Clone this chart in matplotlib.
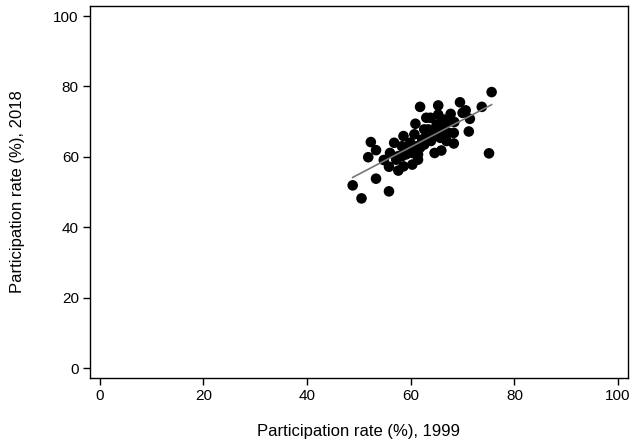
import numpy as np
import matplotlib.pyplot as plt

plt.rcParams['font.family'] = ['Liberation Sans', 'DejaVu Sans']

# participation rate (%), 1999 vs 2018
x1999 = [48.8, 50.5, 55.8, 53.3, 51.8, 52.3, 53.3, 54.8, 55.8, 56.0,
         56.8, 57.6, 58.6, 58.6, 58.3, 59.1, 60.3, 59.9, 60.9, 60.7,
         61.4, 61.8, 61.8, 62.6, 63.0, 63.8, 63.9, 64.2, 64.6, 65.0,
         65.3, 65.3, 65.9, 65.7, 66.4, 66.9, 67.7, 67.3, 68.3, 68.3,
         68.4, 69.5, 70.0, 70.6, 71.4, 71.2, 73.7, 75.1, 75.6, 62.2,
         63.0, 59.5, 61.1, 57.2, 58.3, 63.4, 65.0, 66.1, 66.9, 61.4,
         60.3, 62.6, 59.9, 57.6]
y2018 = [51.9, 48.2, 50.2, 53.8, 59.9, 64.2, 61.9, 59.1, 57.2, 61.1,
         64.0, 56.1, 65.9, 57.3, 63.0, 60.7, 57.8, 64.0, 69.4, 66.4,
         59.2, 62.6, 74.2, 67.8, 71.1, 71.1, 64.5, 66.8, 61.1, 69.2,
         74.6, 72.0, 61.8, 65.4, 70.6, 64.5, 72.2, 66.8, 63.8, 66.8,
         69.9, 75.5, 72.5, 73.2, 70.8, 67.2, 74.2, 61.0, 78.4, 64.9,
         65.9, 61.6, 63.0, 59.2, 60.2, 67.8, 67.4, 67.8, 69.7, 60.7,
         61.1, 63.5, 62.4, 60.2]

x = np.array(x1999)
y = np.array(y2018)

fig = plt.figure(figsize=(6.33, 4.42), dpi=100)
ax = fig.add_axes([0.142, 0.145, 0.85, 0.841])

ax.scatter(x, y, s=58, color='black', edgecolors='none', zorder=2)

# linear fit
b, a = np.polyfit(x, y, 1)
xs = np.array([x.min(), x.max()])
ax.plot(xs, a + b * xs, color='#777777', lw=1.2, zorder=3)

ax.set_xlim(-1.9, 101.9)
ax.set_ylim(-2.8, 102.8)
ax.set_xticks([0, 20, 40, 60, 80, 100])
ax.set_yticks([0, 20, 40, 60, 80, 100])
ax.tick_params(direction='out', length=5, width=1, labelsize=11, pad=3)
for s in ax.spines.values():
    s.set_linewidth(1)

ax.set_xlabel("Participation rate (%), 1999", fontsize=12, labelpad=15)
ax.set_ylabel("Participation rate (%), 2018", fontsize=12, labelpad=20)

fig.savefig("out.png", dpi=100)
